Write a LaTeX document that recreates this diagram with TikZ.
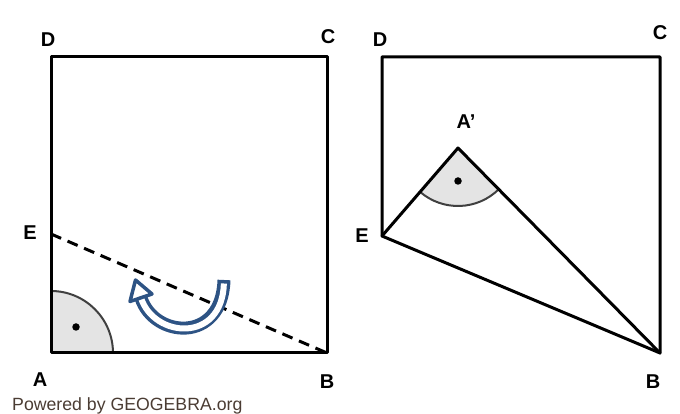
\documentclass[tikz,border=0pt]{standalone}
\usepackage{fontspec}
\setmainfont{Liberation Sans}
\usetikzlibrary{calc}
\definecolor{arrowblue}{HTML}{2D5384}
\definecolor{anglefill}{HTML}{E4E4E4}
\definecolor{footer}{HTML}{4A3C33}
\begin{document}
\begin{tikzpicture}[x=1pt,y=1pt,
  edge/.style={line width=3pt,line cap=round,line join=round},
  foldline/.style={line width=3pt,dash pattern=on 11pt off 7pt},
  arcline/.style={draw=black!75,line width=2pt},
  lbl/.style={font=\bfseries\fontsize{20}{20}\selectfont,inner sep=0pt},
  dotmark/.style={circle,fill=black,inner sep=0pt,minimum size=7.5pt}]
\useasboundingbox (0,0) rectangle (680,414);
% left square
\coordinate (A) at (51,61);
\coordinate (B) at (327,61);
\coordinate (C) at (327,357);
\coordinate (D) at (51,357);
\coordinate (E) at (51,180);
\fill[anglefill] (A) -- ++(62,0) arc[start angle=0,end angle=90,radius=62] -- cycle;
\draw[arcline] ($(A)+(62,0)$) arc[start angle=0,end angle=90,radius=62];
\node[dotmark] (dA) at (76,87) {};
\draw[edge] (A) -- (B) -- (C) -- (D) -- cycle;
\draw[foldline] (E) -- (B);
% fold arrow
\coordinate (s) at (224,134);
\coordinate (t) at (141,116);
\draw[arrowblue,line width=13pt] (s) .. controls (222,70) and (154,76) .. (t);
\draw[white,line width=6pt,shorten <=3.5pt] (s) .. controls (222,70) and (154,76) .. (t);
\filldraw[fill=white,draw=arrowblue,line width=3.5pt,line join=round] (152,120) -- (135.5,134) -- (130,112.5) -- cycle;
% labels left
\node[lbl] (lD) at (48,374) {D};
\node[lbl] (lC) at (328,377) {C};
\node[lbl] (lE) at (30,181) {E};
\node[lbl] (lA) at (40,34) {A};
\node[lbl] (lB) at (327,32) {B};
% right figure
\coordinate (D2) at (382,357);
\coordinate (C2) at (660,357);
\coordinate (B2) at (660,61);
\coordinate (E2) at (382,178);
\coordinate (A2) at (458,266);
\fill[anglefill] (A2) -- ++(229:58) arc[start angle=229,end angle=315,radius=58] -- cycle;
\draw[arcline] ($(A2)+(229:58)$) arc[start angle=229,end angle=315,radius=58];
\node[dotmark] (dA2) at (458,233) {};
\draw[edge] (E2) -- (D2) -- (C2) -- (B2) -- cycle;
\draw[edge] (E2) -- (A2) -- (B2);
\node[lbl] (lD2) at (380,374) {D};
\node[lbl] (lC2) at (660,381) {C};
\node[lbl] (lA2) at (466,292) {A'};
\node[lbl] (lE2) at (362,178) {E};
\node[lbl] (lB2) at (653,32) {B};
% footer
\node[anchor=west,inner sep=0pt,text=footer,font=\fontsize{17.7}{17.7}\selectfont] (foot) at (12,8) {Powered by GEOGEBRA.org};
\end{tikzpicture}
\end{document}
